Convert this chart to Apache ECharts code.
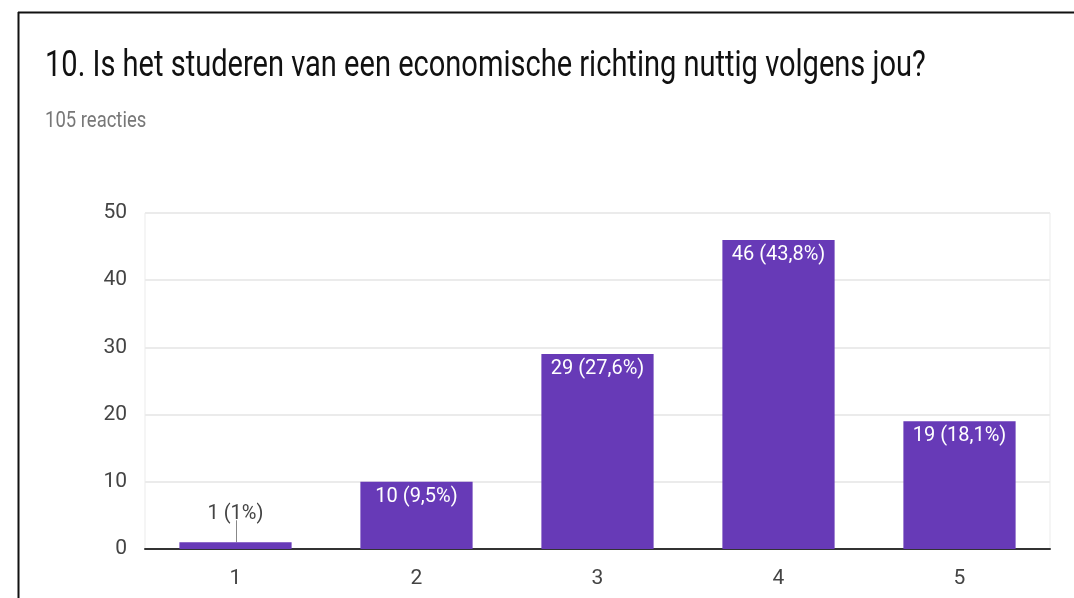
<!DOCTYPE html>
<html>
<head>
<meta charset="utf-8">
<script src="https://cdn.jsdelivr.net/npm/echarts@6/dist/echarts.min.js"></script>
<style>
  html, body { margin: 0; padding: 0; background: #ffffff; }
  #chart { width: 1074px; height: 598px; }
</style>
</head>
<body>
<div id="chart"></div>
<script>
const titleText = '10. Is het studeren van een economische richting nuttig volgens jou?';
const subtitleText = '105 reacties';
const categories = ['1', '2', '3', '4', '5'];
const counts = [1, 10, 29, 46, 19];
const percentLabels = ['1%', '9,5%', '27,6%', '43,8%', '18,1%'];
const yMin = 0;
const yMax = 50;
const yStep = 10;

const chart = echarts.init(document.getElementById('chart'), null, { renderer: 'canvas' });

const barData = counts.map((v, i) => {
  if (i === 0) {
    return {
      value: v,
      label: { position: 'top', distance: 18, color: '#444444' }
    };
  }
  return { value: v };
});

const frameGraphics = [
  { type: 'line', shape: { x1: 18, y1: 12.5, x2: 1074, y2: 12.5 }, style: { stroke: '#111111', lineWidth: 2 } },
  { type: 'line', shape: { x1: 18.5, y1: 12, x2: 18.5, y2: 598 }, style: { stroke: '#111111', lineWidth: 2 } },
  {
    type: 'text', x: 45, y: 67, scaleX: 0.785,
    style: { text: titleText, fontSize: 37, fontFamily: 'Roboto', fill: '#111111',
             align: 'left', verticalAlign: 'middle', textAlign: 'left', textVerticalAlign: 'middle' }
  },
  {
    type: 'text', x: 45, y: 121, scaleX: 0.84,
    style: { text: subtitleText, fontSize: 22, fontFamily: 'Roboto', fill: '#777777',
             align: 'left', verticalAlign: 'middle', textAlign: 'left', textVerticalAlign: 'middle' }
  }
];

chart.setOption({
  animation: false,
  backgroundColor: '#ffffff',
  textStyle: { fontFamily: 'Roboto' },
  grid: {
    left: 145, right: 24, top: 213, bottom: 49,
    show: true, borderColor: '#ebebeb', borderWidth: 1, backgroundColor: 'transparent'
  },
  xAxis: {
    type: 'category',
    data: categories,
    axisLine: { show: true, lineStyle: { color: '#333333', width: 2 } },
    axisTick: { show: false },
    axisLabel: { color: '#444444', fontSize: 21, fontFamily: 'Roboto', margin: 19 },
    splitLine: { show: false }
  },
  yAxis: {
    type: 'value',
    min: yMin, max: yMax, interval: yStep,
    axisLine: { show: false },
    axisTick: { show: false },
    axisLabel: { color: '#444444', fontSize: 21, fontFamily: 'Roboto', margin: 18 },
    splitLine: { show: true, lineStyle: { color: '#ebebeb', width: 2 } }
  },
  series: [{
    type: 'bar',
    data: barData,
    barCategoryGap: '38%',
    itemStyle: { color: '#673ab7' },
    label: {
      show: true,
      position: 'insideTop',
      distance: 5,
      color: '#ffffff',
      fontSize: 20,
      fontFamily: 'Roboto',
      formatter: (p) => counts[p.dataIndex] + ' (' + percentLabels[p.dataIndex] + ')'
    }
  }],
  graphic: frameGraphics
});

// leader line from the small bar's top to its outside label, placed through the chart's own scale
const top0 = chart.convertToPixel({ gridIndex: 0 }, [0, counts[0]]);
chart.setOption({
  graphic: frameGraphics.concat([{
    type: 'line',
    shape: { x1: Math.round(top0[0]) + 0.5, y1: top0[1], x2: Math.round(top0[0]) + 0.5, y2: top0[1] - 22 },
    style: { stroke: '#888888', lineWidth: 1 }
  }])
});
</script>
</body>
</html>
